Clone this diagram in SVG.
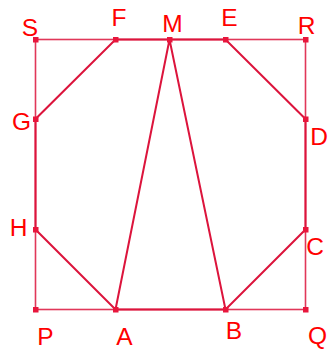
<svg xmlns="http://www.w3.org/2000/svg" width="328" height="349" viewBox="0 0 328 349">
<style>
.sq{fill:none;stroke:#dc143c;stroke-opacity:0.85;stroke-width:1.6}
.ln{fill:none;stroke:#dc143c;stroke-width:2}
.pt{fill:#e8163c}
text{font-family:"Liberation Sans",Arial,sans-serif;font-size:24.5px;fill:#ff0000;text-anchor:middle}
</style>
<g id="connectors">
<rect class="sq" x="35.5" y="39.5" width="270" height="270"/>
<polygon class="ln" points="115.5,39.5 225.5,39.5 305.5,119 305.5,229.5 225.5,309.5 115.5,309.5 35.5,229.5 35.5,119"/>
<polyline class="ln" points="115.5,309.5 169.5,39.5 225.5,309.5"/>
</g>
<g id="S"><rect class="pt" x="33" y="37" width="5.5" height="5.5"/><text x="30" y="36">S</text></g>
<g id="F"><rect class="pt" x="113" y="37" width="5.5" height="5.5"/><text x="119" y="26">F</text></g>
<g id="M"><rect class="pt" x="167" y="37" width="5.5" height="5.5"/><text x="172.5" y="32">M</text></g>
<g id="E"><rect class="pt" x="223" y="37" width="5.5" height="5.5"/><text x="229.5" y="26">E</text></g>
<g id="R"><rect class="pt" x="303" y="37" width="5.5" height="5.5"/><text x="306.5" y="34">R</text></g>
<g id="G"><rect class="pt" x="33" y="116.5" width="5.5" height="5.5"/><text x="21.5" y="130">G</text></g>
<g id="D"><rect class="pt" x="303" y="116.5" width="5.5" height="5.5"/><text x="319" y="145">D</text></g>
<g id="H"><rect class="pt" x="33" y="227" width="5.5" height="5.5"/><text x="18.5" y="236">H</text></g>
<g id="C"><rect class="pt" x="303" y="227" width="5.5" height="5.5"/><text x="315" y="255">C</text></g>
<g id="P"><rect class="pt" x="33" y="307" width="5.5" height="5.5"/><text x="45.3" y="345">P</text></g>
<g id="A"><rect class="pt" x="113" y="307" width="5.5" height="5.5"/><text x="124.5" y="345">A</text></g>
<g id="B"><rect class="pt" x="223" y="307" width="5.5" height="5.5"/><text x="234" y="339">B</text></g>
<g id="Q"><rect class="pt" x="303" y="307" width="5.5" height="5.5"/><text x="317.5" y="344">Q</text></g>
</svg>
